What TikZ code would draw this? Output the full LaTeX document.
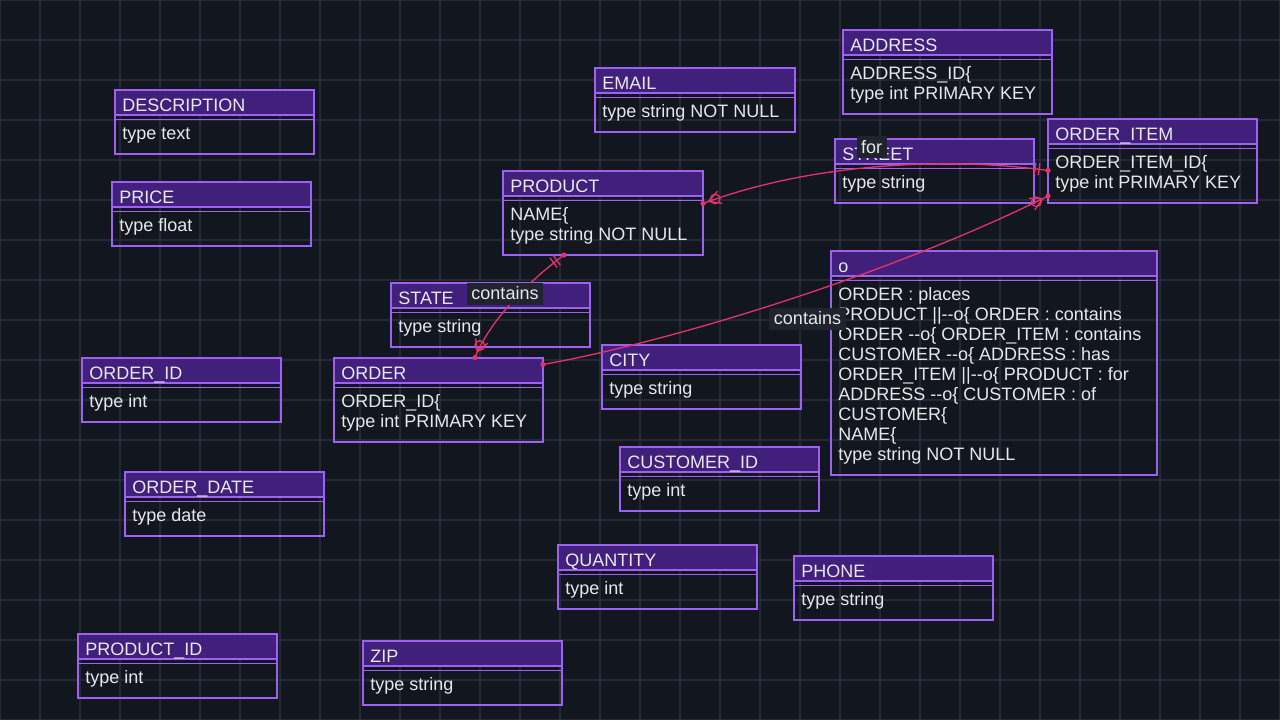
\documentclass[tikz,border=0pt]{standalone}
\usepackage{fontspec}
\setmainfont{Liberation Sans}
\usetikzlibrary{calc}

\definecolor{canvas}{HTML}{12161F}
\definecolor{gridcol}{HTML}{252935}
\definecolor{frame}{HTML}{9F61F4}
\definecolor{headfill}{HTML}{40207A}
\definecolor{ink}{HTML}{E8E8EC}
\definecolor{linkcol}{HTML}{E6336C}
\definecolor{tagbg}{HTML}{20242D}

\tikzset{
  every node/.style={font=\fontsize{18}{20}\selectfont, text=ink},
  gridline/.style={draw=gridcol, line width=1.2},
  entityframe/.style={draw=frame, line width=2},
  entityrule/.style={draw=frame, line width=1.6},
  headband/.style={fill=headfill},
  textline/.style={anchor=base west, inner sep=0},
  link/.style={draw=linkcol, line width=1.3},
  linkdot/.style={fill=linkcol},
  tag/.style={fill=tagbg, inner xsep=4.5, inner ysep=0, minimum height=22},
}

% entity box: name, left, top, width, number of body lines, title
\newcommand\erent[6]{%
  \path (#2,#3) node[anchor=north west, minimum width=#4, minimum height={44+20*#5},
        inner sep=0, outer sep=0] (#1) {};
  \fill[headband] (#1.north west) rectangle ($(#1.north east)+(0,24.5)$);
  \draw[entityframe] (#1.north west) rectangle (#1.south east);
  \draw[entityframe] ($(#1.north west)+(0,24.5)$) -- ($(#1.north east)+(0,24.5)$);
  \draw[entityrule] ($(#1.north west)+(0,29.5)$) -- ($(#1.north east)+(0,29.5)$);
  \node[textline] (#1-title) at ($(#1.north west)+(7.2,21.5)$) {#6};
}
% body line k of an entity
\newcommand\erln[3]{%
  \node[textline] (#1-l#2) at ($(#1.north west)+(7.2,{49.5+20*#2})$) {#3};
}
% "exactly one" bars near end #1, pointing along the link toward #2
\newcommand\onebars[2]{%
  \foreach \dd in {9,13}{%
    \coordinate (bm) at ($(#1)!\dd pt!(#2)$);
    \draw[link] ($(bm)!6pt!90:(#2)$) -- ($(bm)!6pt!-90:(#2)$);
  }
}
% "zero or more" ring and fan near end #1
\newcommand\manyzero[2]{%
  \coordinate (fa) at ($(#1)!6pt!(#2)$);
  \coordinate (ff) at ($(#1)!18pt!(#2)$);
  \coordinate (fc) at ($(#1)!13pt!(#2)$);
  \draw[link] ($(ff)!6.5pt!90:(#2)$) -- (fa) -- ($(ff)!6.5pt!-90:(#2)$);
  \draw[link] (fc) circle[radius=4.8];
}

\begin{document}
\begin{tikzpicture}[x=1pt, y=-1pt]
\useasboundingbox (0,0) rectangle (1280,720);
\fill[canvas] (0,0) rectangle (1280,720);

% background grid
\foreach \gx in {0,40,...,1280} \draw[gridline] (\gx,0) -- (\gx,720);
\foreach \gy in {0,40,...,720} \draw[gridline] (0,\gy) -- (1280,\gy);

% entities
\erent{address}{843}{30}{209}{2}{ADDRESS}
\erln{address}{0}{ADDRESS\_ID\{}
\erln{address}{1}{type int PRIMARY KEY}

\erent{email}{595}{68}{200}{1}{EMAIL}
\erln{email}{0}{type string NOT NULL}

\erent{description}{115}{90}{199}{1}{DESCRIPTION}
\erln{description}{0}{type text}

\erent{street}{835}{139}{199}{1}{STREET}
\erln{street}{0}{type string}

\erent{orderitem}{1048}{119}{209}{2}{ORDER\_ITEM}
\erln{orderitem}{0}{ORDER\_ITEM\_ID\{}
\erln{orderitem}{1}{type int PRIMARY KEY}

\erent{price}{112}{182}{199}{1}{PRICE}
\erln{price}{0}{type float}

\erent{product}{503}{171}{200}{2}{PRODUCT}
\erln{product}{0}{NAME\{}
\erln{product}{1}{type string NOT NULL}

\erent{rel}{831}{251}{326}{9}{o}
\erln{rel}{0}{ORDER : places}
\erln{rel}{1}{PRODUCT ||-{}-o\{ ORDER : contains}
\erln{rel}{2}{ORDER -{}-o\{ ORDER\_ITEM : contains}
\erln{rel}{3}{CUSTOMER -{}-o\{ ADDRESS : has}
\erln{rel}{4}{ORDER\_ITEM ||-{}-o\{ PRODUCT : for}
\erln{rel}{5}{ADDRESS -{}-o\{ CUSTOMER : of}
\erln{rel}{6}{CUSTOMER\{}
\erln{rel}{7}{NAME\{}
\erln{rel}{8}{type string NOT NULL}

\erent{state}{391}{283}{199}{1}{STATE}
\erln{state}{0}{type string}

\erent{orderid}{82}{358}{199}{1}{ORDER\_ID}
\erln{orderid}{0}{type int}

\erent{order}{334}{358}{209}{2}{ORDER}
\erln{order}{0}{ORDER\_ID\{}
\erln{order}{1}{type int PRIMARY KEY}

\erent{city}{602}{345}{199}{1}{CITY}
\erln{city}{0}{type string}

\erent{customerid}{620}{447}{199}{1}{CUSTOMER\_ID}
\erln{customerid}{0}{type int}

\erent{orderdate}{125}{472}{199}{1}{ORDER\_DATE}
\erln{orderdate}{0}{type date}

\erent{quantity}{558}{545}{199}{1}{QUANTITY}
\erln{quantity}{0}{type int}

\erent{phone}{794}{556}{199}{1}{PHONE}
\erln{phone}{0}{type string}

\erent{productid}{78}{634}{199}{1}{PRODUCT\_ID}
\erln{productid}{0}{type int}

\erent{zip}{363}{641}{199}{1}{ZIP}
\erln{zip}{0}{type string}

% link ends and curve handles
\coordinate (pc-s) at ($(product.south west)+(61,0)$);
\coordinate (pc-e) at ($(order.north west)+(141,-0.5)$);
\coordinate (pc-a) at (530,280);
\coordinate (pc-b) at (490,320);

\coordinate (oi-s) at ($(order.north east)+(0,6.5)$);
\coordinate (oi-e) at ($(orderitem.north west)+(0,77)$);
\coordinate (oi-a) at (680,340);
\coordinate (oi-b) at (900,270);

\coordinate (fp-s) at ($(orderitem.north west)+(0,51.5)$);
\coordinate (fp-e) at ($(product.north east)+(0,32.5)$);
\coordinate (fp-a) at (960,158);
\coordinate (fp-b) at (820,160);

% PRODUCT ||--o{ ORDER
\draw[link] (pc-s) .. controls (pc-a) and (pc-b) .. (pc-e);
\onebars{pc-s}{pc-a}
\manyzero{pc-e}{pc-b}
\fill[linkdot] (pc-s) circle[radius=2.6];
\fill[linkdot] (pc-e) circle[radius=2.6];

% ORDER --o{ ORDER_ITEM
\draw[link] (oi-s) .. controls (oi-a) and (oi-b) .. (oi-e);
\manyzero{oi-e}{oi-b}
\fill[linkdot] (oi-s) circle[radius=2.6];
\fill[linkdot] (oi-e) circle[radius=2.6];

% ORDER_ITEM ||--o{ PRODUCT
\draw[link] (fp-s) .. controls (fp-a) and (fp-b) .. (fp-e);
\onebars{fp-s}{fp-a}
\manyzero{fp-e}{fp-b}
\fill[linkdot] (fp-s) circle[radius=2.6];
\fill[linkdot] (fp-e) circle[radius=2.6];

% relationship labels
\node[tag] (tag-pc) at (505,293.5) {contains};
\node[tag] (tag-oi) at (807.5,318.5) {contains};
\node[tag] (tag-fp) at (871.5,147) {for};
\end{tikzpicture}
\end{document}
